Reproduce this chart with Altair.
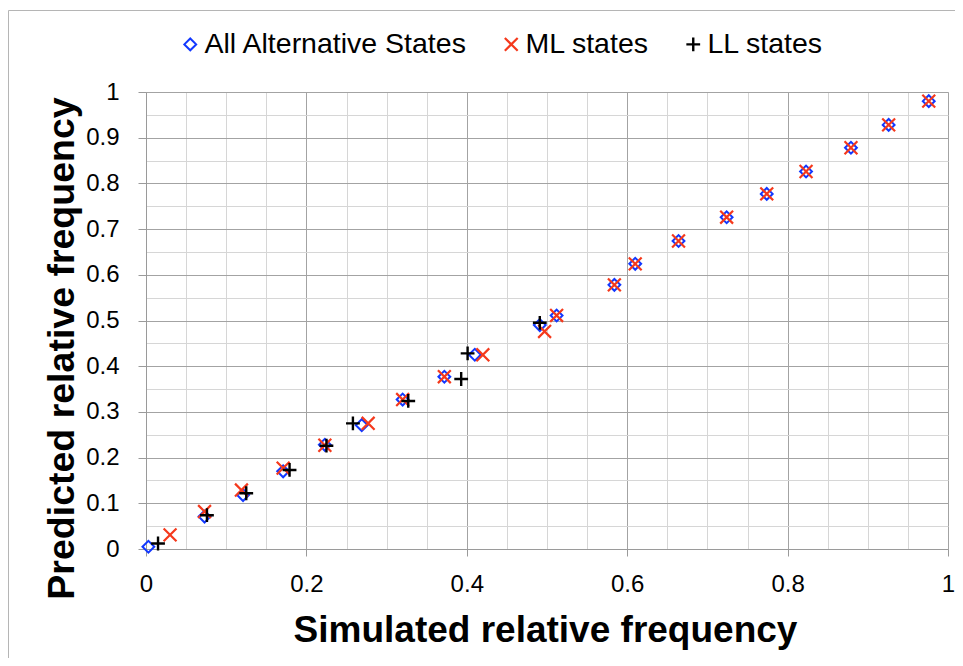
import altair as alt
import pandas as pd

# ---- data ----
series_names = ["All Alternative States", "ML states", "LL states"]

all_x = [0.003, 0.073, 0.121, 0.171, 0.223, 0.269, 0.320, 0.372, 0.410, 0.491,
         0.512, 0.584, 0.610, 0.664, 0.724, 0.774, 0.823, 0.879, 0.926, 0.976]
all_y = [0.005, 0.071, 0.118, 0.170, 0.228, 0.271, 0.327, 0.377, 0.425, 0.490,
         0.511, 0.578, 0.624, 0.674, 0.726, 0.777, 0.826, 0.878, 0.928, 0.980]

ml_x = [0.030, 0.073, 0.119, 0.171, 0.223, 0.277, 0.320, 0.372, 0.420, 0.497,
        0.512, 0.584, 0.610, 0.664, 0.724, 0.774, 0.823, 0.879, 0.926, 0.976]
ml_y = [0.031, 0.082, 0.129, 0.177, 0.227, 0.275, 0.327, 0.377, 0.425, 0.476,
        0.511, 0.578, 0.624, 0.674, 0.726, 0.777, 0.826, 0.878, 0.928, 0.980]

ll_x = [0.015, 0.076, 0.125, 0.179, 0.225, 0.258, 0.327, 0.393, 0.401, 0.491]
ll_y = [0.012, 0.074, 0.122, 0.173, 0.226, 0.275, 0.324, 0.372, 0.428, 0.495]

x_tick_values = [0, 0.05, 0.1, 0.15, 0.2, 0.25, 0.3, 0.35, 0.4, 0.45, 0.5,
                 0.55, 0.6, 0.65, 0.7, 0.75, 0.8, 0.85, 0.9, 0.95, 1]
y_tick_values = list(x_tick_values)

colors = ["#1238ff", "#f5391c", "#000000"]
shapes = ["diamond", "M-1,-1L1,1M-1,1L1,-1", "M-1,0L1,0M0,-1L0,1"]
sizes = [140, 190, 165]
widths = [2.0, 2.4, 2.8]

rows = []
for name, xs, ys in zip(series_names, [all_x, ml_x, ll_x], [all_y, ml_y, ll_y]):
    for xv, yv in zip(xs, ys):
        rows.append({"series": name, "sim": xv, "pred": yv})
df = pd.DataFrame(rows)

FONT = "Liberation Sans"
x_major = "abs(datum.value * 5 - round(datum.value * 5)) < 0.001"
y_major = "abs(datum.value * 10 - round(datum.value * 10)) < 0.001"

x_axis = alt.Axis(
    values=x_tick_values, format="~g",
    labelExpr=f"{x_major} ? datum.label : ''",
    gridColor={"condition": {"test": x_major, "value": "#a3a3a3"}, "value": "#d6d6d6"},
    tickOpacity={"condition": {"test": x_major, "value": 1}, "value": 0},
    tickSize=7, tickColor="#9a9a9a", domainColor="#9a9a9a",
    labelFont=FONT, labelFontSize=24, labelColor="#000000",
    labelPadding=28, labelBaseline="middle", labelFlush=False, labelOverlap=False,
    title="Simulated relative frequency", titleFont=FONT, titleFontSize=37,
    titleFontWeight="bold", titleColor="#000000",
    titleX=399, titleY=81, titleBaseline="middle", titleAlign="center",
)
y_axis = alt.Axis(
    values=y_tick_values, format="~g",
    labelExpr=f"{y_major} ? datum.label : ''",
    gridColor={"condition": {"test": y_major, "value": "#a3a3a3"}, "value": "#d6d6d6"},
    tickOpacity={"condition": {"test": y_major, "value": 1}, "value": 0},
    tickSize=8, tickColor="#9a9a9a", domainColor="#9a9a9a",
    labelFont=FONT, labelFontSize=24, labelColor="#000000",
    labelPadding=19, labelFlush=False, labelOverlap=False,
    title="Predicted relative frequency", titleFont=FONT, titleFontSize=37.5,
    titleFontWeight="bold", titleColor="#000000",
    titleX=-84, titleY=256, titleAngle=270, titleBaseline="middle", titleAlign="center",
)

legend = alt.Legend(
    orient="none", legendX=30, legendY=-62, direction="horizontal", title=None,
    labelFont=FONT, labelFontSize=28.5, labelColor="#000000", labelLimit=500,
    symbolSize=180, symbolStrokeWidth=2.3, labelOffset=0, columnPadding=29, padding=0,
)

points = alt.Chart(df).mark_point(filled=False, opacity=1).encode(
    x=alt.X("sim:Q", scale=alt.Scale(domain=[0, 1], nice=False, zero=False), axis=x_axis),
    y=alt.Y("pred:Q", scale=alt.Scale(domain=[0, 1], nice=False, zero=False), axis=y_axis),
    color=alt.Color("series:N", scale=alt.Scale(domain=series_names, range=colors), legend=legend),
    shape=alt.Shape("series:N", scale=alt.Scale(domain=series_names, range=shapes), legend=legend),
    size=alt.Size("series:N", scale=alt.Scale(domain=series_names, range=sizes), legend=None),
    strokeWidth=alt.StrokeWidth("series:N", scale=alt.Scale(domain=series_names, range=widths), legend=None),
)

frame = alt.Chart(pd.DataFrame({"a": [0]})).mark_rect(
    fillOpacity=0, stroke="#b5b5b5", strokeWidth=1
).encode(
    x=alt.value(-137.5), x2=alt.value(1200), y=alt.value(-81.5), y2=alt.value(1200)
)

chart = alt.layer(frame, points).properties(
    width=802, height=457,
    padding={"left": 138, "top": 84, "right": 7, "bottom": 109},
    autosize="none",
).configure_view(strokeWidth=0).configure(background="white")

chart.save("out.html", embed_options={"renderer": "svg", "actions": False})
